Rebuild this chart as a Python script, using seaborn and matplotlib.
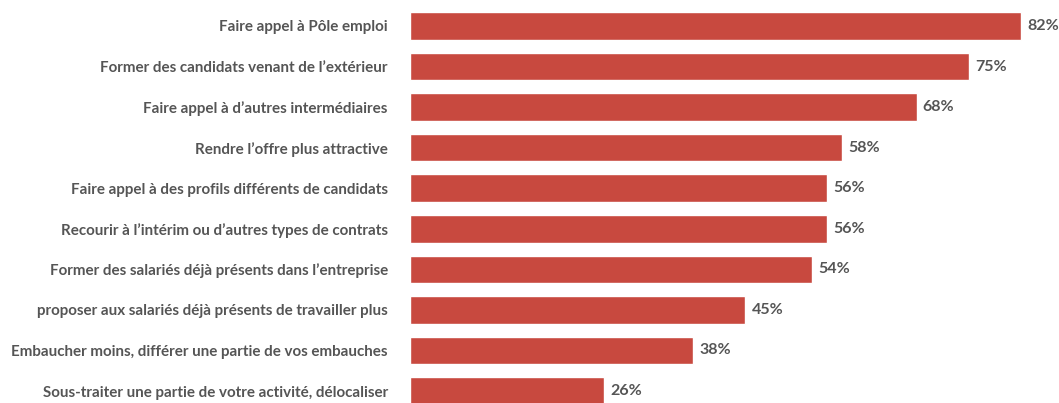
import matplotlib
matplotlib.use("Agg")
import matplotlib.pyplot as plt
import seaborn as sns
import pandas as pd

categories = [
    "Faire appel à Pôle emploi",
    "Former des candidats venant de l’extérieur",
    "Faire appel à d’autres intermédiaires",
    "Rendre l’offre plus attractive",
    "Faire appel à des profils différents de candidats",
    "Recourir à l’intérim ou d’autres types de contrats",
    "Former des salariés déjà présents dans l’entreprise",
    "proposer aux salariés déjà présents de travailler plus",
    "Embaucher moins, différer une partie de vos embauches",
    "Sous-traiter une partie de votre activité, délocaliser",
]
values = [82, 75, 68, 58, 56, 56, 54, 45, 38, 26]
value_labels = ["82%", "75%", "68%", "58%", "56%", "56%", "54%", "45%", "38%", "26%"]

df = pd.DataFrame({"cat": categories, "val": values})

sns.set_theme(style="white")
plt.rcParams["font.family"] = ["Lato", "DejaVu Sans"]

W, H = 1059, 403
fig = plt.figure(figsize=(W / 100, H / 100), dpi=100)
ax = fig.add_axes([410 / W, 0, 1 - 410 / W, 1])

sns.barplot(data=df, x="val", y="cat", orient="h", color="#C8493F",
            saturation=1, width=0.68, ax=ax)

ax.set_xlim(0, 649 / 7.45)
ax.set_ylim(9 + 12 / 40.56, -26 / 40.56)
for s in ax.spines.values():
    s.set_visible(False)
ax.set_xticks([])
ax.set_xlabel("")
ax.set_ylabel("")
ax.tick_params(axis="y", length=0, pad=16)
for t in ax.get_yticklabels():
    t.set_fontweight("bold")
    t.set_fontsize(10.9)
    t.set_color("#555555")

for i, (v, lab) in enumerate(zip(values, value_labels)):
    ax.annotate(lab, xy=(v, i), xytext=(4.5, 0), textcoords="offset points",
                va="center", ha="left", fontsize=11.5, fontweight="bold",
                color="#555555")

fig.savefig("out.png", dpi=100)
